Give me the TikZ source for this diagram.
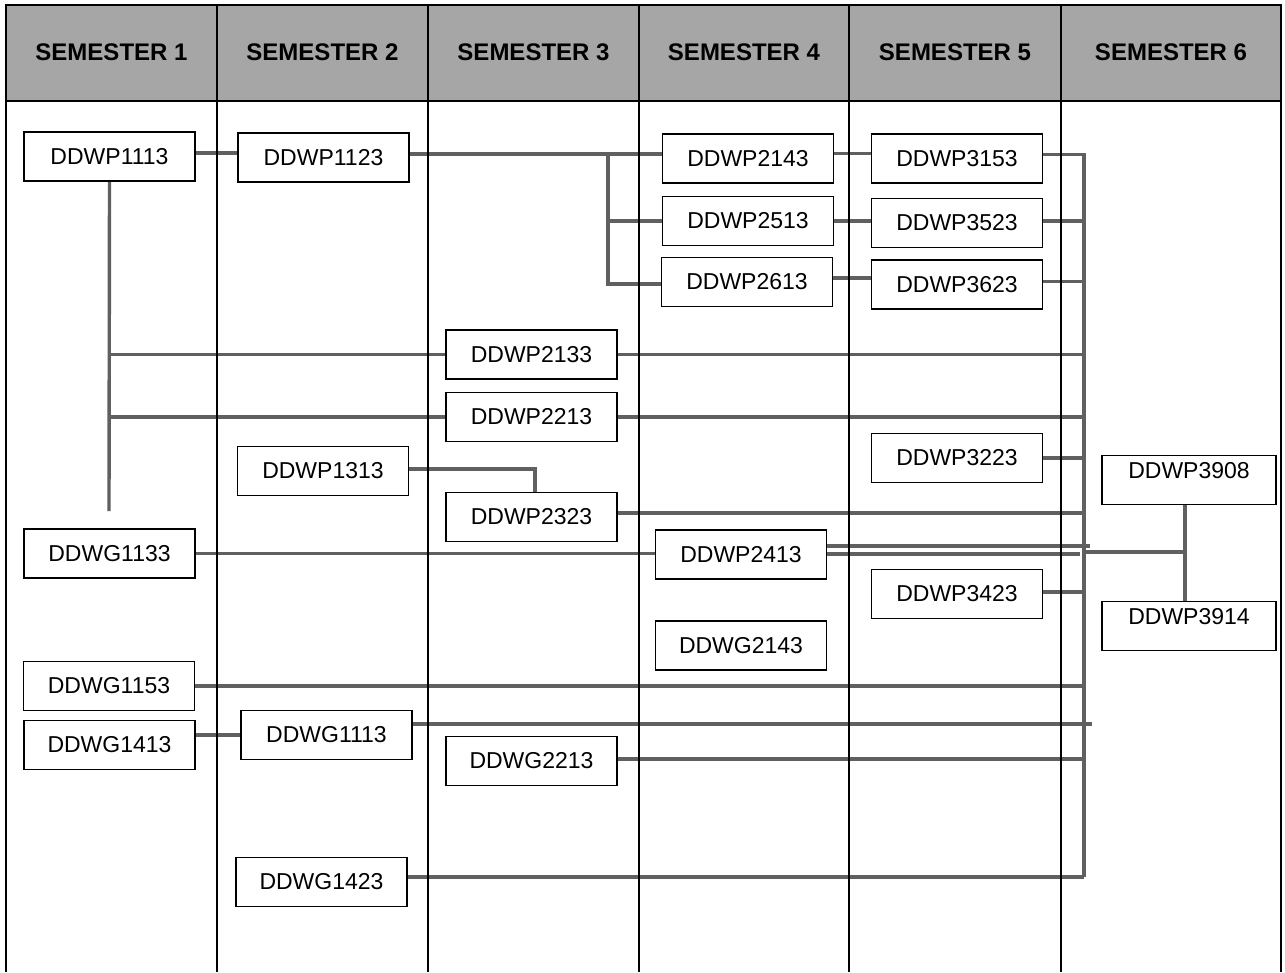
\documentclass[tikz,border=0pt]{standalone}
\usepackage{fontspec}
\setmainfont{Liberation Sans}
\definecolor{conn}{RGB}{96,96,96}
\definecolor{headfill}{RGB}{166,166,166}
\pgfdeclarelayer{bg}
\pgfsetlayers{bg,main}
\tikzset{
  course/.style={draw=black, line width=1.8pt, fill=white, minimum width=171pt,
    minimum height=49pt, inner sep=0pt, font=\fontsize{23}{27}\selectfont},
  coursetext/.style={inner sep=0pt, font=\fontsize{23}{27}\selectfont},
  link/.style={draw=conn, line width=3.4pt},
  gridline/.style={draw=black, line width=2pt},
  head/.style={inner sep=0pt, font=\bfseries\fontsize{24}{28}\selectfont}
}
\begin{document}
\begin{tikzpicture}[x=1pt,y=-1pt]
\useasboundingbox (0,0) rectangle (1285,972);

% header labels
\node[head] (h1) at (111.5,52) {SEMESTER 1};
\node[head] (h2) at (322.5,52) {SEMESTER 2};
\node[head] (h3) at (533.5,52) {SEMESTER 3};
\node[head] (h4) at (744,52) {SEMESTER 4};
\node[head] (h5) at (955,52) {SEMESTER 5};
\node[head] (h6) at (1171,52) {SEMESTER 6};

% course boxes
\node[course] (p1113) at (109.5,156.5) {DDWP1113};
\node[course] (p1123) at (323.5,157.5) {DDWP1123};
\node[course] (p2143) at (748,158.5) {DDWP2143};
\node[course] (p2513) at (748,221) {DDWP2513};
\node[course] (p2613) at (747,282) {DDWP2613};
\node[course] (p3153) at (957,158.5) {DDWP3153};
\node[course] (p3523) at (957,223) {DDWP3523};
\node[course] (p3623) at (957,284.5) {DDWP3623};
\node[course] (p2133) at (531.5,354.5) {DDWP2133};
\node[course] (p2213) at (531.5,417) {DDWP2213};
\node[course] (p3223) at (957,458) {DDWP3223};
\node[course] (p1313) at (323,471) {DDWP1313};
\node[course] (p2323) at (531.5,517) {DDWP2323};
\node[course] (g1133) at (109.5,553.5) {DDWG1133};
\node[course] (p2413) at (741,554.5) {DDWP2413};
\node[course, minimum width=174pt] (p3908) at (1189,480) {};
\node[coursetext] (p3908t) at ([yshift=9pt]p3908.center) {DDWP3908};
\node[course] (p3423) at (957,594) {DDWP3423};
\node[course, minimum width=174pt] (p3914) at (1189,626) {};
\node[coursetext] (p3914t) at ([yshift=9pt]p3914.center) {DDWP3914};
\node[course] (g2143) at (741,645.5) {DDWG2143};
\node[course] (g1153) at (109,686) {DDWG1153};
\node[course] (g1413) at (109.5,745) {DDWG1413};
\node[course] (g1113) at (326.5,735) {DDWG1113};
\node[course] (g2213) at (531.5,761) {DDWG2213};
\node[course] (g1423) at (321.5,882) {DDWG1423};

% helper points
\coordinate (bustop) at (1084,153);
\coordinate (busbot) at (1084,877);
\coordinate (leftend) at (109,511);
\coordinate (fork) at (608,154);
\coordinate (capjoin) at (1185,552);
\coordinate (p2413enda) at (1090,546);
\coordinate (p2413endb) at (1080,554);
\coordinate (g1113end) at (1092,724);

\begin{pgfonlayer}{bg}
\fill[headfill] (6,5) rectangle (1281,101);
% connectors
\draw[link] (bustop) -- (busbot);
\draw[link] ([yshift=3.5pt]p1113.east) -- ([yshift=3.5pt]p1113.east -| p1123.west);
\draw[link] ([yshift=3.5pt]p1123.east) -- ([yshift=3.5pt]p1123.east -| p2143.west);
\draw[link] (fork) |- ([yshift=-2pt]p2613.west);
\draw[link] (fork |- p2513.west) -- (p2513.west);
\draw[link] ([yshift=5pt]p2143.east) -- ([yshift=5pt]p2143.east -| p3153.west);
\draw[link] (p2513.east) -- (p2513.east -| p3523.west);
\draw[link] ([yshift=4pt]p2613.east) -- ([yshift=4pt]p2613.east -| p3623.west);
\draw[link] ([yshift=4pt]p3153.east) -- ([yshift=4pt]p3153.east -| bustop);
\draw[link] ([yshift=2pt]p3523.east) -- ([yshift=2pt]p3523.east -| bustop);
\draw[link] ([yshift=3pt]p3623.east) -- ([yshift=3pt]p3623.east -| bustop);
\draw[link] (p1113.south) -- (leftend);
\draw[link] (leftend |- p2133.west) -- (p2133.west);
\draw[link] (leftend |- p2213.west) -- (p2213.west);
\draw[link] (p2133.east) -- (p2133.east -| bustop);
\draw[link] (p2213.east) -- (p2213.east -| bustop);
\draw[link] (p3223.east) -- (p3223.east -| bustop);
\draw[link] ([yshift=2pt]p1313.east) -| ([xshift=3.5pt]p2323.north);
\draw[link] ([yshift=4pt]p2323.east) -- ([yshift=4pt]p2323.east -| bustop);
\draw[link] (g1133.east) -- (g1133.east -| p2413.west);
\draw[link] (p2413.east |- p2413enda) -- (p2413enda);
\draw[link] (p2413.east |- p2413endb) -- (p2413endb);
\draw[link] (bustop |- capjoin) -- (capjoin);
\draw[link] (capjoin |- p3908.south) -- (capjoin |- p3914.north);
\draw[link] ([yshift=2pt]p3423.east) -- ([yshift=2pt]p3423.east -| bustop);
\draw[link] (g1153.east) -- (g1153.east -| bustop);
\draw[link] ([yshift=10pt]g1413.east) -- ([yshift=10pt]g1413.east -| g1113.west);
\draw[link] (g1113.east |- g1113end) -- (g1113end);
\draw[link] ([yshift=2pt]g2213.east) -- ([yshift=2pt]g2213.east -| bustop);
\draw[link] (g1423.east |- busbot) -- (busbot);
% table grid
\draw[gridline] (6,972) -- (6,5) -- (1281,5) -- (1281,972);
\draw[gridline] (6,101) -- (1281,101);
\foreach \xx in {217,428,639,849,1061} {
  \draw[gridline] (\xx,5) -- (\xx,972);
}
\end{pgfonlayer}
\end{tikzpicture}
\end{document}
